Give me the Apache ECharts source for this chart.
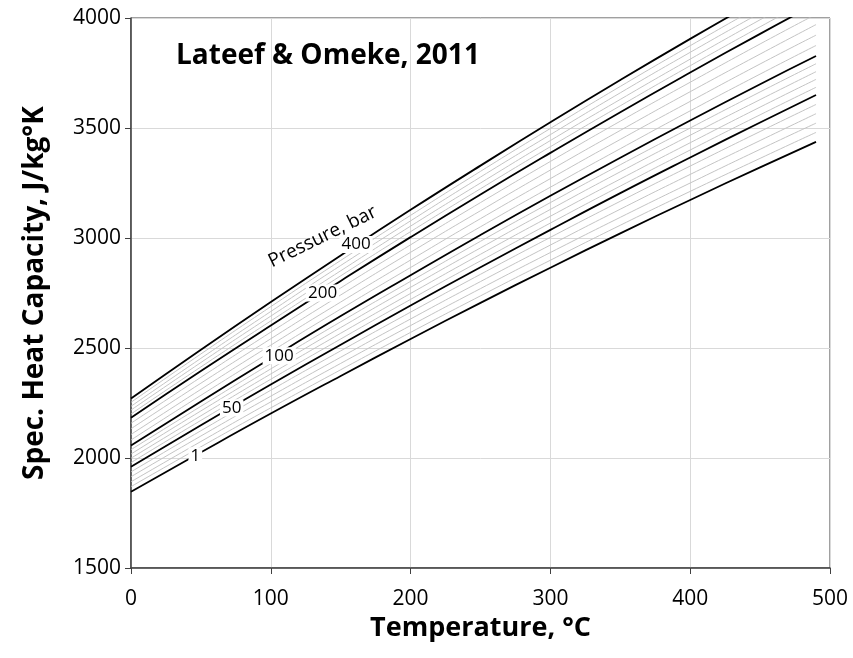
<!DOCTYPE html>
<html>
<head>
<meta charset="utf-8">
<script src="https://cdn.jsdelivr.net/npm/echarts@6/dist/echarts.min.js"></script>
<style>
html,body{margin:0;padding:0;background:#fff;}
#chart{width:853px;height:658px;}
</style>
</head>
<body>
<div id="chart"></div>
<script>
// Temperatures (°C) at which each curve is sampled
const temps = [0, 50, 100, 150, 200, 250, 300, 350, 400, 450, 490];

// Specific heat capacity (J/kg°K) per pressure curve (bar)
const p1   = [1847, 2026, 2202, 2373, 2541, 2705, 2865, 3021, 3173, 3321, 3437];
const p10  = [1870, 2051, 2228, 2401, 2571, 2737, 2899, 3058, 3212, 3362, 3480];
const p20  = [1892, 2075, 2255, 2430, 2602, 2770, 2934, 3094, 3250, 3403, 3522];
const p30  = [1915, 2100, 2281, 2458, 2632, 2802, 2968, 3131, 3289, 3443, 3565];
const p40  = [1937, 2124, 2308, 2487, 2663, 2835, 3003, 3167, 3327, 3484, 3607];
const p50  = [1960, 2149, 2334, 2515, 2693, 2867, 3037, 3204, 3366, 3525, 3650];
const p60  = [1979, 2171, 2358, 2541, 2721, 2896, 3068, 3236, 3400, 3560, 3685];
const p70  = [1999, 2192, 2382, 2567, 2748, 2926, 3099, 3268, 3433, 3595, 3721];
const p80  = [2018, 2214, 2405, 2593, 2776, 2955, 3130, 3301, 3467, 3629, 3756];
const p90  = [2038, 2235, 2429, 2619, 2803, 2985, 3161, 3333, 3500, 3664, 3792];
const p100 = [2057, 2257, 2453, 2645, 2831, 3014, 3192, 3365, 3534, 3699, 3827];
const p120 = [2082, 2285, 2483, 2677, 2866, 3051, 3231, 3406, 3578, 3745, 3875];
const p140 = [2107, 2312, 2513, 2709, 2900, 3088, 3270, 3448, 3621, 3791, 3922];
const p160 = [2133, 2340, 2542, 2741, 2935, 3124, 3309, 3489, 3665, 3836, 3970];
const p180 = [2158, 2367, 2572, 2773, 2969, 3161, 3348, 3531, 3708, 3882, 4017];
const p200 = [2183, 2395, 2602, 2805, 3004, 3198, 3387, 3572, 3752, 3928, 4065];
const p240 = [2200, 2414, 2623, 2828, 3029, 3224, 3415, 3601, 3783, 3960, 4098];
const p280 = [2218, 2434, 2645, 2851, 3054, 3250, 3443, 3630, 3813, 3992, 4131];
const p320 = [2235, 2453, 2666, 2875, 3078, 3277, 3470, 3660, 3844, 4023, 4163];
const p360 = [2253, 2473, 2688, 2898, 3103, 3303, 3498, 3689, 3874, 4055, 4196];
const p400 = [2270, 2492, 2709, 2921, 3128, 3329, 3526, 3718, 3905, 4087, 4229];

const pressures = [1, 10, 20, 30, 40, 50, 60, 70, 80, 90, 100, 120, 140, 160, 180, 200, 240, 280, 320, 360, 400];
const curveValues = [p1, p10, p20, p30, p40, p50, p60, p70, p80, p90, p100, p120, p140, p160, p180, p200, p240, p280, p320, p360, p400];
const labelledPressures = [1, 50, 100, 200, 400];

// In-chart labels: text, temperature, value
const labelTexts = ['1', '50', '100', '200', '400'];
const labelT = [46, 72, 106, 137, 161];
const labelV = [2010, 2228, 2465, 2750, 2970];
const noteText = 'Pressure, bar';
const noteT = 137;
const noteV = 3005;

const xTicks = [0, 100, 200, 300, 400, 500];
const yTicks = [1500, 2000, 2500, 3000, 3500, 4000];

const FONT = 'Open Sans';

const series = [];
pressures.forEach(function (p, i) {
  const bold = labelledPressures.indexOf(p) >= 0;
  series.push({
    type: 'line',
    name: p + ' bar',
    data: temps.map(function (t, j) { return [t, curveValues[i][j]]; }),
    smooth: 0.5,
    showSymbol: false,
    symbol: 'none',
    clip: true,
    z: bold ? 5 : 3,
    lineStyle: { color: bold ? '#000000' : '#c4c4c4', width: bold ? 1.8 : 1 },
    silent: true
  });
});

series.push({
  type: 'scatter',
  z: 20,
  symbolSize: 1,
  itemStyle: { color: 'rgba(255,255,255,0)', opacity: 1 },
  data: labelTexts.map(function (s, i) {
    return { value: [labelT[i], labelV[i]], name: s };
  }),
  label: {
    show: true,
    position: 'inside',
    formatter: '{b}',
    fontFamily: FONT,
    fontSize: 17,
    color: '#000000',
    opacity: 1,
    textBorderWidth: 0,
    backgroundColor: '#ffffff',
    padding: [0, 2]
  },
  silent: true
});

series.push({
  type: 'scatter',
  z: 20,
  symbolSize: 1,
  itemStyle: { color: 'rgba(255,255,255,0)', opacity: 1 },
  data: [{ value: [noteT, noteV], name: noteText }],
  label: {
    show: true,
    position: 'inside',
    formatter: '{b}',
    rotate: 26,
    fontFamily: FONT,
    fontSize: 19,
    color: '#000000',
    opacity: 1,
    textBorderWidth: 0
  },
  silent: true
});

const chart = echarts.init(document.getElementById('chart'), null, { renderer: 'canvas' });
chart.setOption({
  animation: false,
  backgroundColor: '#ffffff',
  title: {
    text: 'Lateef & Omeke, 2011',
    left: 171,
    top: 37,
    textStyle: { fontFamily: FONT, fontWeight: 'bold', fontSize: 28, color: '#000' }
  },
  grid: {
    left: 131, top: 18, width: 699, height: 550,
    show: true, borderColor: '#404040', borderWidth: 1, backgroundColor: 'transparent'
  },
  xAxis: {
    type: 'value',
    min: xTicks[0], max: xTicks[xTicks.length - 1], interval: 100,
    name: 'Temperature, °C',
    nameLocation: 'middle',
    nameGap: 46,
    nameTextStyle: { fontFamily: FONT, fontWeight: 'bold', fontSize: 27, color: '#000' },
    axisLine: { show: true, lineStyle: { color: '#404040', width: 1.5 } },
    axisTick: { show: true, inside: false, length: 6, lineStyle: { color: '#404040' } },
    axisLabel: { fontFamily: FONT, fontSize: 21, color: '#000', margin: 21,
      formatter: function (v) { return String(v); } },
    splitLine: { show: true, lineStyle: { color: '#d9d9d9', width: 1 } }
  },
  yAxis: {
    type: 'value',
    min: yTicks[0], max: yTicks[yTicks.length - 1], interval: 500,
    name: 'Spec. Heat Capacity, J/kg°K',
    nameLocation: 'middle',
    nameGap: 82,
    nameTextStyle: { fontFamily: FONT, fontWeight: 'bold', fontSize: 28, color: '#000' },
    axisLine: { show: true, lineStyle: { color: '#404040', width: 1.5 } },
    axisTick: { show: true, inside: false, length: 6, lineStyle: { color: '#404040' } },
    axisLabel: { fontFamily: FONT, fontSize: 21, color: '#000', margin: 10,
      formatter: function (v) { return String(v); } },
    splitLine: { show: true, lineStyle: { color: '#d9d9d9', width: 1 } }
  },
  series: series
});
</script>
</body>
</html>
